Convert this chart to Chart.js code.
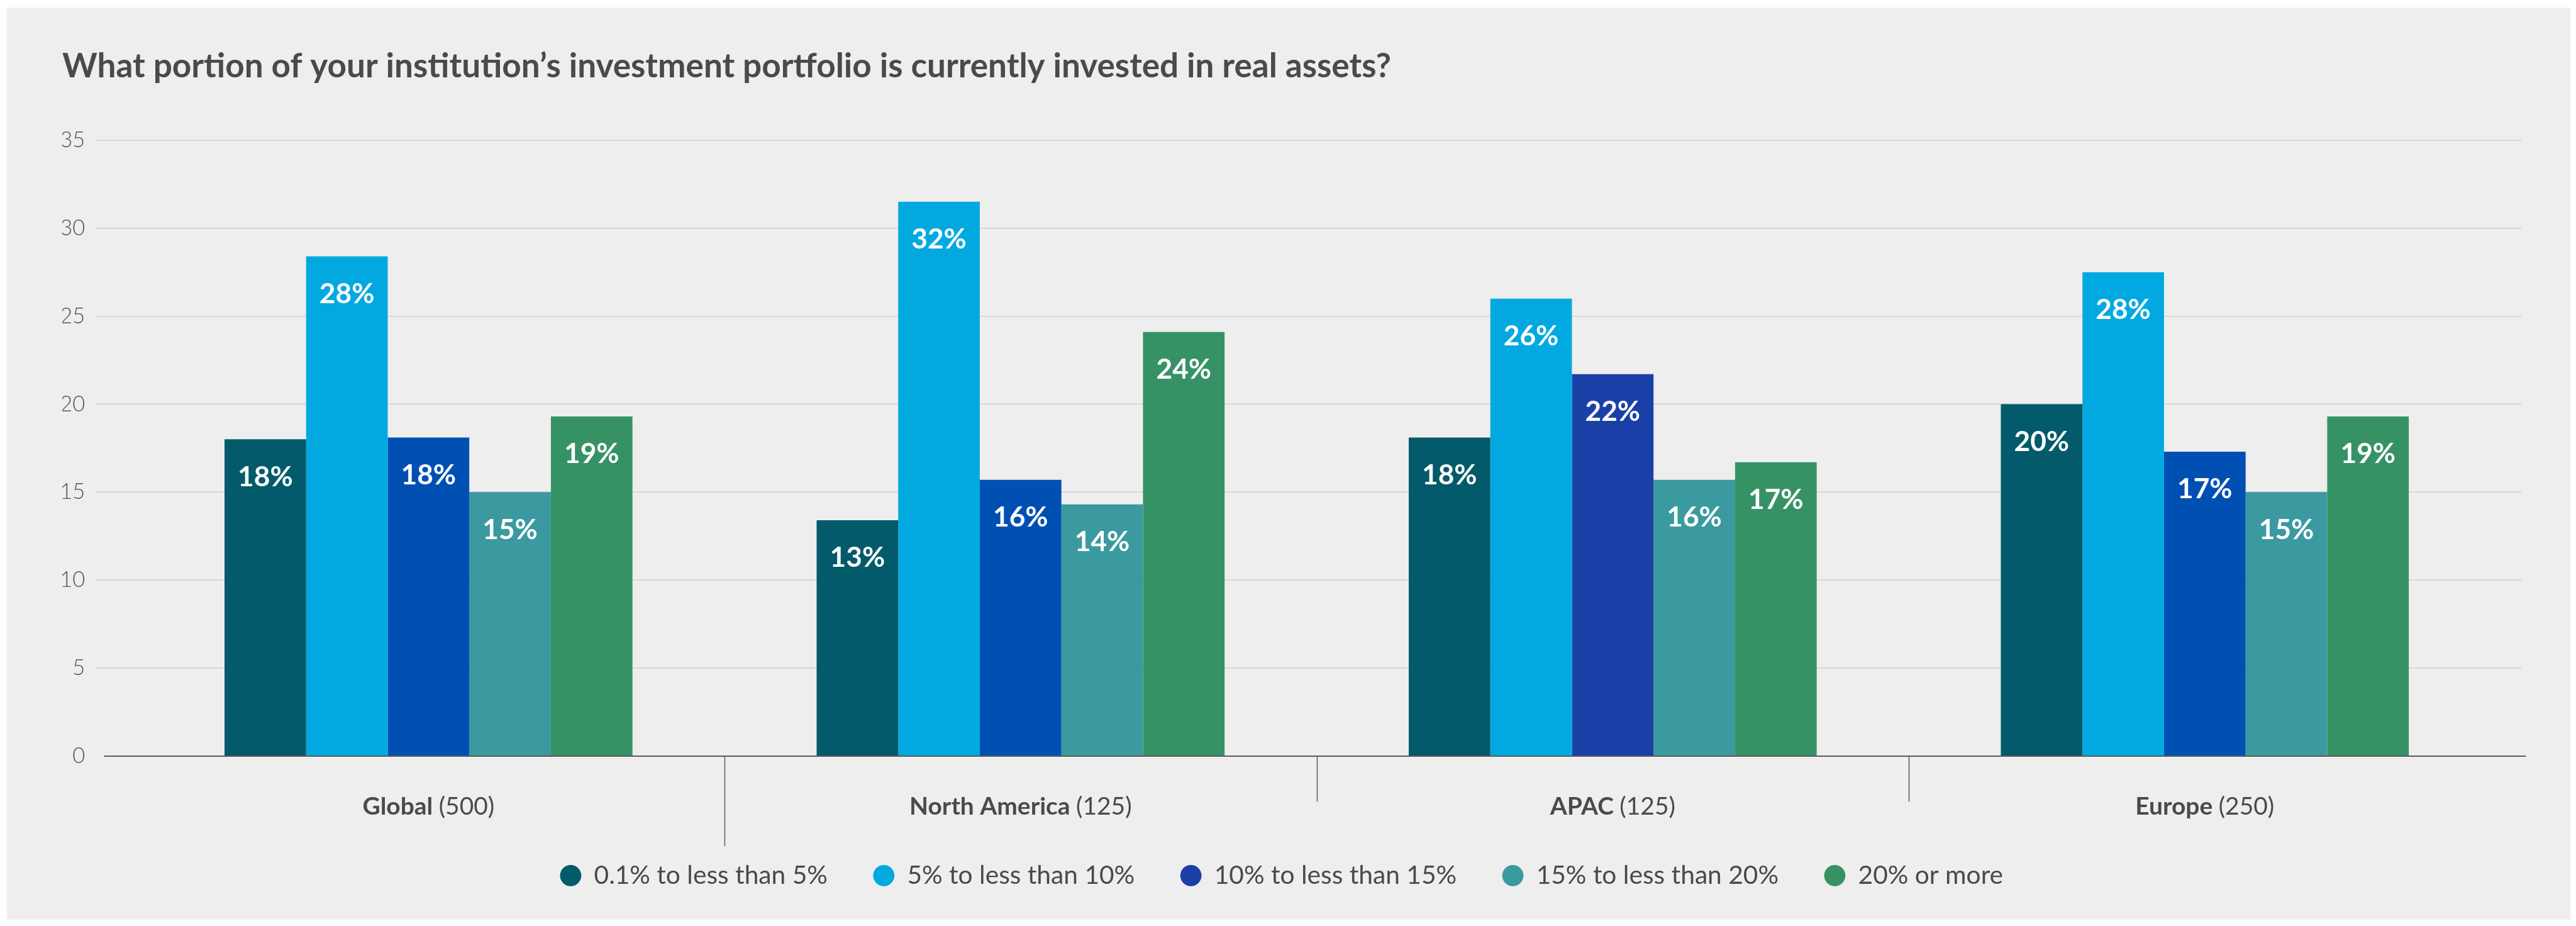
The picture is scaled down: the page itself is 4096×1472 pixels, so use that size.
<!DOCTYPE html>
<html>
<head>
<meta charset="utf-8">
<title>Real assets share of portfolio</title>
<script src="https://cdn.jsdelivr.net/npm/chart.js@4.4.1/dist/chart.umd.min.js"></script>
<style>
  html, body { margin: 0; padding: 0; background: #ffffff; }
  #wrap { width: 4096px; height: 1472px; }
</style>
</head>
<body>
<div id="wrap"><canvas id="chart"></canvas></div>
<script>
// reference was 4629 wide, everything is drawn at this scale
const S = 4096 / 4629;
const px = (v) => v * S;

// categories and sample sizes
const regions = ["Global", "North America", "APAC", "Europe"];
const sampleSizes = ["(500)", "(125)", "(125)", "(250)"];

// legend bands
const bands = [
	"0.1% to less than 5%",
	"5% to less than 10%",
	"10% to less than 15%",
	"15% to less than 20%",
	"20% or more",
];

// % of respondents per band, one value per region
const under5 = [18.0, 13.4, 18.1, 20.0];
const from5to10 = [28.4, 31.5, 26.0, 27.5];
const from10to15 = [18.1, 15.7, 21.7, 17.3];
const from15to20 = [15.0, 14.3, 15.7, 15.0];
const over20 = [19.3, 24.1, 16.7, 19.3];

// y axis ticks
const yMax = 35;
const yStep = 5;

const seriesValues = [under5, from5to10, from10to15, from15to20, over20];
const seriesColors = ["#025a6a", "#02a9e1", "#0050b4", "#3a9aa0", "#369265"];
// APAC uses a darker blue for the 10-15% band, so does the legend dot
const midBandColors = ["#0050b4", "#0050b4", "#1a40a8", "#0050b4"];
const legendColors = ["#025a6a", "#02a9e1", "#1a40a8", "#3a9aa0", "#369265"];

const textColor = "#4a4a4a";
const fontFamily = "Lato, 'Open Sans', sans-serif";

// sizes of the bottom boxes (in reference px)
const legendFont = 46;
const legendPad = 82;
const xAxisHeight = 110;
const padBottom = 1472 - px(1358 + xAxisHeight) - (px(legendFont + legendPad) + 10);

// background panel, gridlines, axis line, dividers and labels
const decorations = {
	id: "decorations",
	beforeDraw(chart) {
		const ctx = chart.ctx;
		ctx.save();
		ctx.fillStyle = "#eeeeee";
		ctx.fillRect(px(12), px(14), px(4607), px(1638));
		ctx.restore();
	},
	beforeDatasetsDraw(chart) {
		const { ctx, scales } = chart;
		const y = scales.y;
		ctx.save();
		ctx.strokeStyle = "#d7d7d7";
		ctx.lineWidth = 2;
		y.ticks.forEach((t) => {
			if (t.value === 0) return;
			const yy = Math.round(y.getPixelForValue(t.value));
			ctx.beginPath();
			ctx.moveTo(px(172), yy);
			ctx.lineTo(px(4531), yy);
			ctx.stroke();
		});
		ctx.restore();
	},
	afterDatasetsDraw(chart) {
		const { ctx, scales } = chart;
		const x = scales.x;
		const y = scales.y;
		const y0 = Math.round(y.getPixelForValue(0));
		ctx.save();

		// value labels inside the top of each bar
		ctx.fillStyle = "#ffffff";
		ctx.font = "bold " + px(50) + "px " + fontFamily;
		ctx.textAlign = "center";
		ctx.textBaseline = "middle";
		chart.data.datasets.forEach((ds, d) => {
			const meta = chart.getDatasetMeta(d);
			meta.data.forEach((bar, i) => {
				ctx.fillText(Math.round(ds.data[i]) + "%", bar.x, bar.y + px(68));
			});
		});

		// x axis line
		ctx.strokeStyle = "#5a5a5a";
		ctx.lineWidth = 2;
		ctx.beginPath();
		ctx.moveTo(px(187), y0);
		ctx.lineTo(px(4539), y0);
		ctx.stroke();

		// dividers between the regions
		ctx.lineWidth = 1.5;
		for (let i = 0; i < regions.length - 1; i++) {
			const xx = Math.round((x.getPixelForValue(i) + x.getPixelForValue(i + 1)) / 2) + 0.5;
			ctx.beginPath();
			ctx.moveTo(xx, y0);
			ctx.lineTo(xx, i === 0 ? px(1520) : px(1440));
			ctx.stroke();
		}

		// region labels: bold name, regular sample size
		ctx.fillStyle = textColor;
		ctx.textAlign = "left";
		ctx.textBaseline = "alphabetic";
		const boldFont = "bold " + px(44) + "px " + fontFamily;
		const normalFont = px(44) + "px " + fontFamily;
		regions.forEach((name, i) => {
			ctx.font = boldFont;
			const w1 = ctx.measureText(name + " ").width;
			ctx.font = normalFont;
			const w2 = ctx.measureText(sampleSizes[i]).width;
			const left = x.getPixelForValue(i) - (w1 + w2) / 2;
			ctx.font = boldFont;
			ctx.fillText(name + " ", left, px(1463));
			ctx.font = normalFont;
			ctx.fillText(sampleSizes[i], left + w1, px(1463));
		});
		ctx.restore();
	},
};

const datasets = bands.map((band, i) => ({
	label: band,
	data: seriesValues[i],
	backgroundColor: i === 2 ? midBandColors : seriesColors[i],
	borderWidth: 0,
	categoryPercentage: 0.689,
	barPercentage: 1.0,
}));

const chartEl = document.getElementById("chart").getContext("2d");
const realAssetsChart = new Chart(chartEl, {
	type: "bar",
	data: {
		labels: regions,
		datasets: datasets,
	},
	options: {
		responsive: true,
		maintainAspectRatio: false,
		animation: false,
		events: [],
		layout: {
			padding: { left: px(112), right: px(135), top: 0, bottom: padBottom },
		},
		scales: {
			x: {
				ticks: { display: false },
				grid: { display: false, drawTicks: false },
				border: { display: false },
				afterFit(scale) {
					scale.height = px(xAxisHeight);
				},
			},
			y: {
				min: 0,
				max: yMax,
				ticks: {
					stepSize: yStep,
					padding: px(85),
					color: "#555555",
					font: { family: fontFamily, size: px(39), weight: "300" },
				},
				grid: { display: false, drawTicks: false },
				border: { display: false },
				afterFit(scale) {
					scale.width = px(126);
				},
			},
		},
		plugins: {
			title: {
				display: true,
				text: "What portion of your institution’s investment portfolio is currently invested in real assets?",
				align: "start",
				color: textColor,
				font: { family: fontFamily, size: px(60), weight: "bold", lineHeight: 1.2 },
				padding: { top: px(84), bottom: px(252 - 84 - 60 * 1.2) },
			},
			legend: {
				position: "bottom",
				labels: {
					usePointStyle: true,
					pointStyle: "circle",
					boxWidth: px(38),
					boxHeight: px(27),
					padding: px(legendPad),
					color: textColor,
					font: { family: fontFamily, size: px(legendFont) },
					generateLabels(chart) {
						const items = Chart.defaults.plugins.legend.labels.generateLabels(chart);
						items.forEach((item, i) => {
							item.fillStyle = legendColors[i];
							item.strokeStyle = legendColors[i];
							item.lineWidth = 0;
						});
						return items;
					},
				},
			},
			tooltip: { enabled: false },
		},
	},
	plugins: [decorations],
});
</script>
</body>
</html>
